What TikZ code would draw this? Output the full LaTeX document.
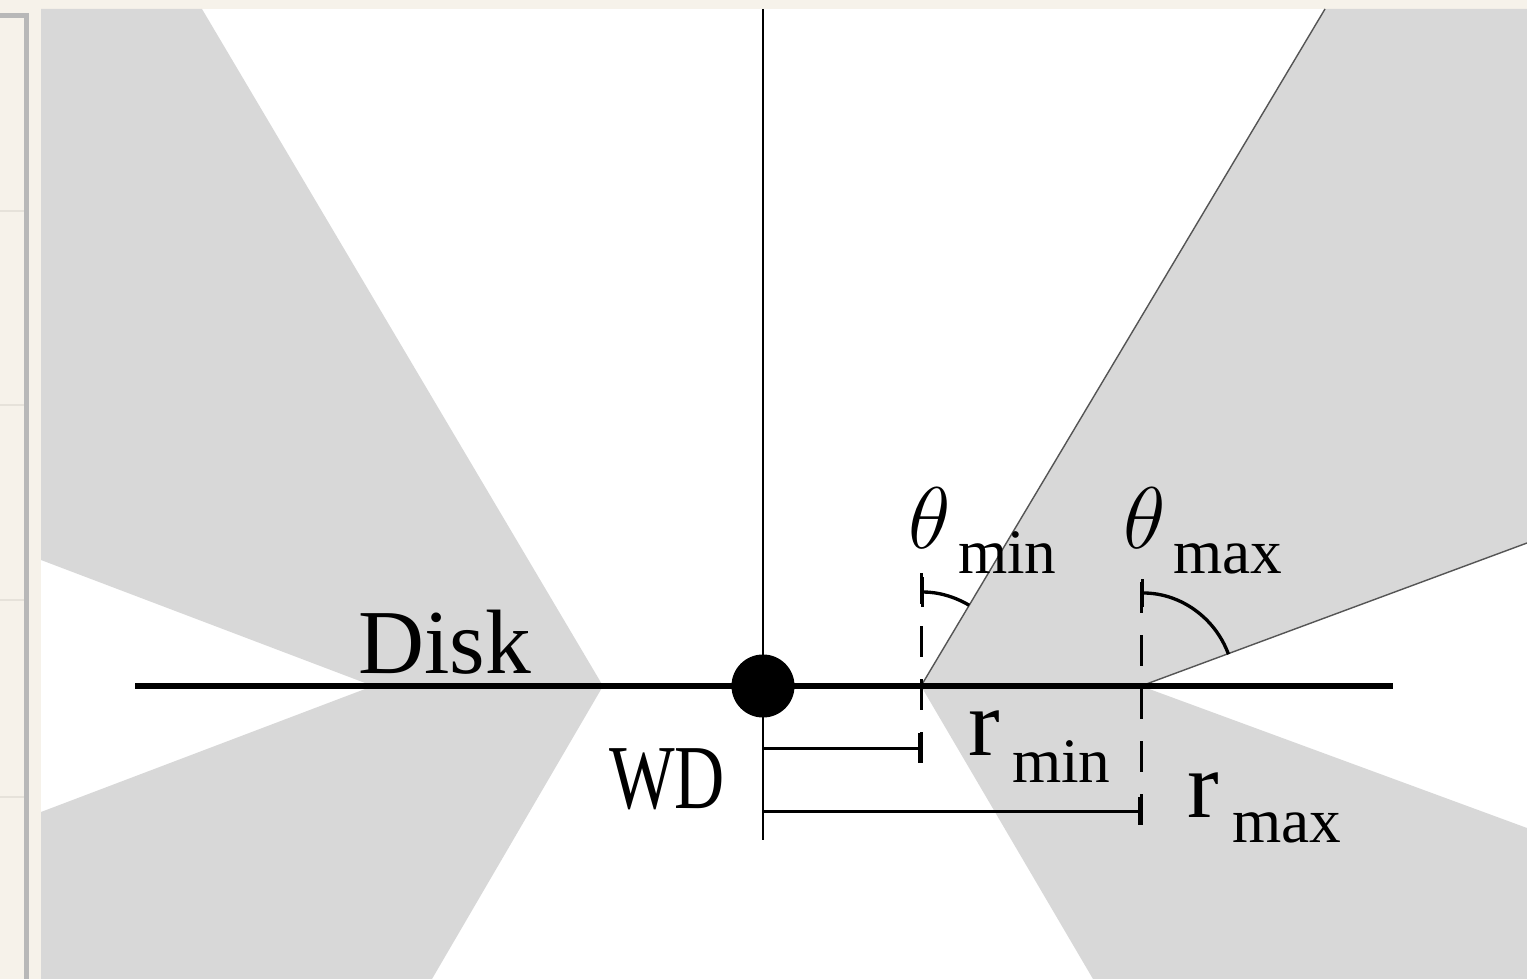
\documentclass[tikz,border=0pt]{standalone}
\usepackage{fontspec}
\setmainfont{Liberation Serif}
\usetikzlibrary{arrows.meta}
\definecolor{beige}{RGB}{246,242,234}
\definecolor{framegray}{RGB}{184,184,184}
\definecolor{fadeline}{RGB}{230,226,218}
\definecolor{wedge}{RGB}{216,216,216}
\definecolor{edgegray}{RGB}{85,85,85}
\begin{document}
\begin{tikzpicture}[x=0.01cm,y=-0.01cm,
  lbl/.style={inner sep=0pt, outer sep=0pt, font=\fontsize{26}{30}\selectfont},
  rlbl/.style={inner sep=0pt, outer sep=0pt, font=\fontsize{27}{32}\selectfont},
  sub/.style={inner sep=0pt, outer sep=0pt, font=\fontsize{18}{21}\selectfont},
  dimline/.style={line width=0.85pt},
  dashline/.style={line width=0.85pt, dash pattern=on 8.8pt off 6.3pt},
  anglearc/.style={line width=0.95pt},
  wedgefill/.style={fill=wedge, draw=none},
  wedgeedge/.style={draw=edgegray, line width=0.4pt}]
\useasboundingbox (0,0) rectangle (1527,979);
% page background and side frame
\fill[beige] (0,0) rectangle (1527,979);
\foreach \yy in {211,405,600,797} {\draw[fadeline, line width=0.3pt] (0,\yy) -- (24,\yy);}
\draw[framegray, line width=1.4pt] (0,15.5) -- (26.5,15.5) -- (26.5,979);
\fill[white] (41,9) rectangle (1527,979);
% key points
\coordinate (O) at (763,686);
\coordinate (Rmin) at (921,686);
\coordinate (Rmax) at (1141,686);
\coordinate (Lin) at (603,686);
\coordinate (Lout) at (373,686);
\coordinate (Rtop) at (1325,9);
\coordinate (Rside) at (1527,543);
% gray wedges
\fill[wedgefill] (Rmin) -- (Rtop) -- (1527,9) -- (Rside) -- (Rmax) -- cycle;
\fill[wedgefill] (Rmin) -- (1093,979) -- (1527,979) -- (1527,828) -- (Rmax) -- cycle;
\fill[wedgefill] (Lin) -- (202,9) -- (41,9) -- (41,560) -- (Lout) -- cycle;
\fill[wedgefill] (Lin) -- (432,979) -- (41,979) -- (41,812) -- (Lout) -- cycle;
\draw[wedgeedge] (Rmin) -- (Rtop);
\draw[wedgeedge] (Rmax) -- (Rside);
% axis and disk
\coordinate (axtop) at (763,9);
\coordinate (axbot) at (763,840);
\draw[line width=0.7pt] (axtop) -- (axbot);
\coordinate (dL) at (135,686);
\coordinate (dR) at (1393,686);
\draw[line width=1.6pt] (dL) -- (dR);
\fill (O) circle[radius=0.315cm];
% dashed verticals
\coordinate (v1t) at (921,573);
\coordinate (v1b) at (921,763);
\coordinate (v2t) at (1141,582);
\coordinate (v2b) at (1141,825);
\draw[dashline] (v1t) -- (v1b);
\draw[dashline] (v2t) -- (v2b);
% angle arcs
\coordinate (a1) at (921,592);
\coordinate (a2) at (1141,593);
\draw[anglearc, {Bar[width=8.5pt]}-] (a1) arc[start angle=90, end angle=59.2, radius=0.94cm];
\draw[anglearc, {Bar[width=8pt]}-] (a2) arc[start angle=90, end angle=20, radius=0.93cm];
% radius brackets
\coordinate (b1s) at (763,748);
\coordinate (b1e) at (921,748);
\coordinate (b2s) at (763,811);
\coordinate (b2e) at (1141,811);
\draw[dimline, -{Bar[width=8.5pt]}] (b1s) -- (b1e);
\draw[dimline, -{Bar[width=8pt]}] (b2s) -- (b2e);
% labels
\node[lbl, anchor=base west] (disk) at (358,673) {Disk};
\node[lbl, anchor=base east] (wd) at (725,808) {\scalebox{0.76}[1]{WD}};
\node[lbl, anchor=base west] (thmin) at (908,548) {$\theta$};
\node[sub, anchor=base west] (thminsub) at (958,573) {min};
\node[lbl, anchor=base west] (thmax) at (1123,548) {$\theta$};
\node[sub, anchor=base west] (thmaxsub) at (1173,573) {max};
\node[rlbl, anchor=base west] (rmin) at (968,755) {r};
\node[sub, anchor=base west] (rminsub) at (1012,782) {min};
\node[rlbl, anchor=base west] (rmax) at (1187,817) {r};
\node[sub, anchor=base west] (rmaxsub) at (1232,842) {max};
\end{tikzpicture}
\end{document}
